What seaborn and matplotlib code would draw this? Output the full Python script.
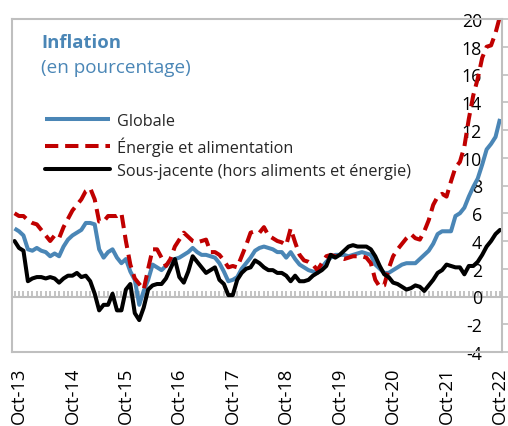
import numpy as np
import pandas as pd
import matplotlib
matplotlib.use("Agg")
import matplotlib.pyplot as plt
from matplotlib.ticker import MultipleLocator
import seaborn as sns

# ---- data (monthly, Sep-2013 .. Oct-2022) ----
globale = [4.9, 4.7, 4.4, 3.4, 3.3, 3.5, 3.3, 3.2, 2.9, 3.1,
           2.9, 3.6, 4.1, 4.4, 4.6, 4.8, 5.3, 5.3, 5.2, 3.4,
           2.8, 3.2, 3.4, 2.8, 2.4, 2.7, 1.8, 1.2, -0.6, 0.4,
           1.2, 2.3, 2.1, 1.9, 2.2, 2.6, 2.7, 2.8, 3.0, 3.2,
           3.5, 3.2, 3.0, 3.0, 2.9, 2.8, 2.4, 1.8, 1.1, 1.2,
           1.4, 2.0, 2.4, 2.8, 3.3, 3.5, 3.6, 3.5, 3.4, 3.2,
           3.2, 2.8, 3.2, 2.7, 2.3, 2.1, 1.9, 1.8, 1.7, 2.1,
           2.5, 2.8, 3.0, 3.0, 3.0, 2.9, 3.0, 3.1, 3.2, 3.1,
           3.0, 2.3, 2.0, 1.7, 1.7, 1.9, 2.1, 2.3, 2.4, 2.4,
           2.4, 2.7, 3.0, 3.3, 3.8, 4.5, 4.7, 4.7, 4.7, 5.8,
           6.0, 6.4, 7.2, 7.9, 8.5, 9.5, 10.6, 11.0, 11.5, 12.8]
energie_alim = [6.0, 5.8, 5.8, 5.5, 5.3, 5.2, 4.8, 4.4, 4.0, 4.4,
                4.2, 5.0, 5.6, 6.2, 6.6, 7.0, 7.6, 7.8, 7.0, 5.4,
                5.4, 5.8, 5.8, 5.8, 6.0, 4.0, 2.3, 1.3, 0.9, 0.5,
                2.0, 3.4, 3.4, 2.8, 2.2, 2.7, 3.6, 4.1, 4.6, 4.3,
                4.0, 3.9, 4.0, 4.1, 3.2, 3.2, 3.0, 2.6, 2.1, 2.2,
                2.1, 2.9, 3.7, 4.6, 4.7, 4.6, 5.0, 4.4, 4.2, 4.0,
                3.9, 3.7, 4.9, 3.9, 3.0, 2.6, 2.5, 2.3, 1.9, 2.4,
                2.9, 3.0, 2.9, 2.8, 2.7, 2.8, 2.9, 2.9, 2.9, 2.8,
                2.4, 1.2, 0.7, 0.8, 2.0, 2.9, 3.4, 3.8, 4.2, 4.5,
                4.2, 4.1, 4.7, 5.5, 6.6, 7.2, 7.4, 7.2, 8.3, 9.3,
                9.7, 10.8, 12.8, 14.5, 15.7, 17.2, 18.0, 18.1, 19.0, 20.2]
sous_jacente = [4.0, 3.5, 3.3, 1.1, 1.3, 1.4, 1.4, 1.3, 1.4, 1.3,
                1.0, 1.3, 1.5, 1.5, 1.7, 1.4, 1.5, 1.1, 0.2, -1.0,
                -0.6, -0.6, 0.2, -1.0, -1.0, 0.5, 0.9, -1.2, -1.7, -0.8,
                0.5, 0.8, 0.9, 0.9, 1.3, 2.0, 2.7, 1.4, 1.0, 1.8,
                2.9, 2.5, 2.1, 1.7, 1.9, 2.1, 1.2, 0.9, 0.1, 0.1,
                1.2, 1.7, 2.0, 2.1, 2.6, 2.4, 2.1, 1.9, 1.9, 1.7,
                1.7, 1.5, 1.1, 1.5, 1.1, 1.1, 1.2, 1.5, 1.7, 1.9,
                2.2, 3.0, 2.8, 3.0, 3.3, 3.6, 3.7, 3.6, 3.6, 3.6,
                3.4, 2.9, 2.2, 1.6, 1.4, 1.0, 0.9, 0.7, 0.5, 0.6,
                0.8, 0.7, 0.4, 0.8, 1.2, 1.7, 1.9, 2.3, 2.2, 2.1,
                2.1, 1.6, 2.2, 2.2, 2.5, 3.0, 3.6, 4.0, 4.5, 4.8]
tick_labels = ["Oct-13", "Oct-14", "Oct-15", "Oct-16", "Oct-17",
               "Oct-18", "Oct-19", "Oct-20", "Oct-21", "Oct-22"]
series_names = ["Globale", "Énergie et alimentation",
                "Sous-jacente (hors aliments et énergie)"]

months = np.arange(-1, -1 + len(globale))  # 0 = Oct-2013
df = pd.DataFrame({"m": months, "g": globale, "e": energie_alim, "s": sous_jacente})

sns.set_style("white")
plt.rcParams["font.family"] = ["Open Sans", "DejaVu Sans"]
plt.rcParams["axes.unicode_minus"] = False

W, H = 508, 427
fig = plt.figure(figsize=(W / 100, H / 100), dpi=100)
ax = fig.add_axes([12 / W, 1 - 353 / H, 490 / W, 333 / H])

BLUE = "#4A86B6"
RED = "#C00000"
GRAY = "#BFBFBF"

sns.lineplot(data=df, x="m", y="g", ax=ax, color=BLUE, linewidth=2.9,
             label=series_names[0], solid_capstyle="butt")
sns.lineplot(data=df, x="m", y="e", ax=ax, color=RED, linewidth=2.9,
             linestyle=(0, (3.3, 1.7)), label=series_names[1], clip_on=False)
sns.lineplot(data=df, x="m", y="s", ax=ax, color="black", linewidth=2.9,
             label=series_names[2])

ax.set_xlim(-1.57, 108.45)
ax.set_ylim(-4, 20)
ax.set_xlabel("")
ax.set_ylabel("")

for sp in ax.spines.values():
    sp.set_visible(True)
    sp.set_color(GRAY)
    sp.set_linewidth(1.5)

# x ticks
ax.set_xticks(np.arange(0, 109, 12))
ax.set_xticklabels(tick_labels, rotation=90, fontsize=13.2, color="black")
ax.tick_params(axis="x", length=0, pad=10.5, bottom=True)

# y ticks on the right spine; labels right-aligned just left of that spine
TICK_LEN = 4.3
label_anchor_pt = (482 - 12) * 0.72  # distance from left spine, points
ax.set_yticks(np.arange(-4, 21, 2))
ax.tick_params(axis="y", left=False, right=True, labelleft=True, labelright=False,
               direction="out", length=TICK_LEN, width=1.2, color=GRAY,
               labelsize=12.8, labelcolor="black", pad=-(label_anchor_pt + TICK_LEN))

# zero line with monthly hatch ticks
sec = ax.secondary_xaxis(4 / 24)
sec.spines["bottom"].set_color(GRAY)
sec.spines["bottom"].set_linewidth(1.5)
sec.xaxis.set_major_locator(MultipleLocator(1))
sec.tick_params(axis="x", direction="in", length=4.2, width=1.3, color=GRAY,
                labelbottom=False, labeltop=False)

# titles
fig.text(41 / W, 1 - 48 / H, "Inflation", fontsize=13.3, fontweight="bold",
         color=BLUE, va="baseline", ha="left")
fig.text(41 / W, 1 - 73 / H, "(en pourcentage)", fontsize=13.6,
         color=BLUE, va="baseline", ha="left")

# legend
ax.legend(loc="upper left", bbox_to_anchor=(45 / W, 1 - 114 / H),
          bbox_transform=fig.transFigure, frameon=False, fontsize=11.7,
          handlelength=4.0, handletextpad=0.45, labelspacing=0.45,
          borderpad=0, borderaxespad=0)

fig.savefig("out.png", dpi=100)
